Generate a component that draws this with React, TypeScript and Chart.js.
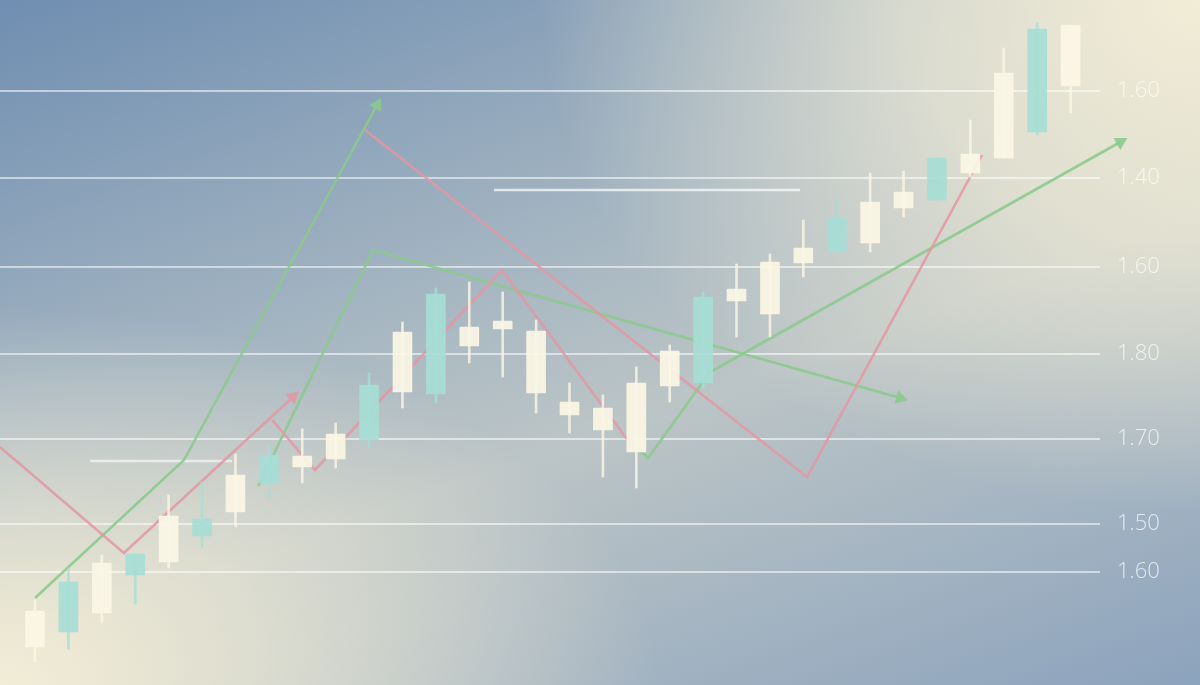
import { useEffect, useRef } from "react";
import { Chart, registerables } from "chart.js";

Chart.register(...registerables);

// ---- candle data (index positions 0..31) ----
const candleIdx = [0, 1, 2, 3, 4, 5, 6, 7, 8, 9, 10, 11, 12, 13, 14, 15, 16, 17, 18, 19, 20, 21, 22, 23, 24, 25, 26, 27, 28, 29, 30, 31];
const bodyHigh = [74, 103, 122, 131, 169, 166, 210, 230, 229, 251, 300, 353, 391, 358, 364, 354, 283, 277, 302, 334, 388, 396, 423, 437, 467, 483, 493, 527, 531, 612, 656, 660];
const bodyLow = [38, 53, 72, 110, 123, 149, 173, 202, 218, 226, 245, 293, 291, 339, 356, 292, 270, 255, 233, 299, 302, 384, 371, 422, 433, 442, 477, 485, 512, 527, 553, 599];
const highs = [85, 117, 130, 131, 190, 203, 231, 240, 256, 262, 312, 363, 397, 403, 393, 365, 302, 290, 318, 340, 393, 421, 431, 465, 485, 512, 514, 527, 565, 637, 662, 660];
const lows = [23, 36, 62, 81, 117, 138, 158, 185, 202, 217, 237, 277, 282, 322, 308, 272, 252, 208, 197, 283, 297, 348, 348, 408, 433, 433, 468, 485, 508, 527, 550, 572];
const kinds = ["c", "t", "c", "t", "c", "t", "c", "t", "c", "c", "t", "c", "t", "c", "c", "c", "c", "c", "c", "c", "t", "c", "c", "c", "t", "c", "c", "t", "c", "c", "t", "c"];

// ---- y axis ticks ----
const tickValues = [594, 507, 418, 331, 246, 161, 113];
const tickLabels = ["1.60", "1.40", "1.60", "1.80", "1.70", "1.50", "1.60"];

// ---- trend lines (x in candle-index units, y in price units) ----
const redAx = [-1.05, 2.66, 7.72];
const redAy = [238, 132, 288];
const redBx = [7.1, 8.38, 13.98, 17.96];
const redBy = [265, 215, 415, 235];
const redCx = [9.88, 23.11, 28.35];
const redCy = [555, 208, 530];
const greenAx = [0, 4.46, 10.24];
const greenAy = [87, 225, 580];
const greenBx = [6.68, 10.12, 25.9];
const greenBy = [199, 435, 287];
const greenCx = [18.05, 18.35, 20.21, 32.49];
const greenCy = [236, 227, 313, 543];
const whiteAx = [1.65, 5.9];
const whiteAy = [224, 224];
const whiteBx = [13.74, 22.9];
const whiteBy = [495, 495];

const CREAM = "rgba(251,246,229,0.93)";
const CREAM_WICK = "rgba(251,246,229,0.8)";
const TEAL = "rgba(166,221,213,0.92)";
const TEAL_WICK = "rgba(166,221,213,0.8)";
const RED = "rgba(228,150,162,0.85)";
const GREEN = "rgba(138,201,140,0.88)";

function pts(xs: number[], ys: number[]) {
  return xs.map((x, i) => ({ x, y: ys[i] }));
}

function lineDs(xs: number[], ys: number[], color: string, arrow: boolean, width = 2.6) {
  const n = xs.length;
  return {
    type: "line" as const,
    data: pts(xs, ys),
    arrow,
    borderColor: color,
    backgroundColor: color,
    borderWidth: width,
    tension: 0,
    clip: false as any,
    order: 5,
    pointStyle: "triangle" as const,
    pointBorderWidth: 0,
    pointBackgroundColor: color,
    pointRadius: (ctx: any) => (arrow && ctx.dataIndex === n - 1 ? 8 : 0),
    pointHoverRadius: 0,
    pointRotation: (ctx: any) => {
      const i = ctx.dataIndex;
      if (i === 0) return 0;
      const sx = ctx.chart.scales.x;
      const sy = ctx.chart.scales.y;
      const x1 = sx.getPixelForValue(xs[i - 1]);
      const y1 = sy.getPixelForValue(ys[i - 1]);
      const x2 = sx.getPixelForValue(xs[i]);
      const y2 = sy.getPixelForValue(ys[i]);
      return (Math.atan2(x2 - x1, -(y2 - y1)) * 180) / Math.PI;
    },
  };
}

// draws arrow-head points that lie outside the chart area (the library skips them)
const arrowOutside = {
  id: "arrowOutside",
  afterDatasetsDraw(chart: any) {
    const area = chart.chartArea;
    chart.data.datasets.forEach((ds: any, di: number) => {
      if (!ds.arrow) return;
      const meta = chart.getDatasetMeta(di);
      const last = meta.data[meta.data.length - 1];
      if (!last) return;
      if (last.x > area.right || last.x < area.left || last.y < area.top || last.y > area.bottom) {
        last.draw(chart.ctx);
      }
    });
  },
};

export default function App() {
  const ref = useRef<HTMLCanvasElement | null>(null);

  useEffect(() => {
    document.body.style.margin = "0";
    const canvas = ref.current;
    if (!canvas) return;
    const chart = new Chart(canvas, {
      type: "bar",
      plugins: [arrowOutside],
      data: {
        datasets: [
          {
            type: "bar",
            data: candleIdx.map((x, i) => ({ x, y: [lows[i], highs[i]] })) as any,
            backgroundColor: kinds.map((k) => (k === "t" ? TEAL_WICK : CREAM_WICK)),
            barThickness: 2,
            grouped: false,
            order: 2,
          } as any,
          {
            type: "bar",
            data: candleIdx.map((x, i) => ({ x, y: [bodyLow[i], bodyHigh[i]] })) as any,
            backgroundColor: kinds.map((k) => (k === "t" ? TEAL : CREAM)),
            barThickness: 19,
            grouped: false,
            borderRadius: 1,
            order: 1,
          } as any,
          lineDs(redAx, redAy, RED, true),
          lineDs(redBx, redBy, RED, false),
          lineDs(redCx, redCy, RED, false),
          lineDs(greenAx, greenAy, GREEN, true),
          lineDs(greenBx, greenBy, GREEN, true),
          lineDs(greenCx, greenCy, GREEN, true),
          lineDs(whiteAx, whiteAy, "rgba(255,255,255,0.6)", false, 2.5),
          lineDs(whiteBx, whiteBy, "rgba(255,255,255,0.7)", false, 2.5),
        ] as any,
      },
      options: {
        animation: false,
        responsive: true,
        maintainAspectRatio: false,
        layout: { padding: 0, autoPadding: false },
        plugins: { legend: { display: false }, tooltip: { enabled: false } },
        events: [],
        scales: {
          x: {
            type: "linear",
            display: false,
            offset: false,
            min: -1.048,
            max: 31.88,
          },
          y: {
            type: "linear",
            position: "right",
            min: 0,
            max: 685,
            afterBuildTicks: (scale: any) => {
              scale.ticks = tickValues.map((v) => ({ value: v }));
            },
            afterFit: (scale: any) => {
              scale.width = 100;
              scale.paddingTop = 0;
              scale.paddingBottom = 0;
            },
            border: { display: false },
            grid: {
              color: "rgba(255,255,255,0.55)",
              lineWidth: 2,
              drawTicks: false,
            },
            ticks: {
              padding: 17,
              color: "rgba(255,255,255,0.72)",
              font: { family: "'Open Sans', 'Noto Sans', sans-serif", size: 22, weight: 300 as any },
              callback: (_v: any, i: number) => tickLabels[i],
            },
          },
        },
      },
    });
    return () => chart.destroy();
  }, []);

  return (
    <div
      style={{
        position: "fixed",
        left: 0,
        top: 0,
        width: 1200,
        height: 685,
        background:
          "radial-gradient(ellipse 55% 55% at 0% 100%, rgba(243,237,214,1) 0%, rgba(243,237,214,0.6) 45%, rgba(243,237,214,0) 100%)," +
          "radial-gradient(ellipse 55% 75% at 100% 0%, rgba(243,237,214,1) 0%, rgba(243,237,214,0.7) 45%, rgba(243,237,214,0) 100%)," +
          "linear-gradient(160deg, #6f8eb1 0%, #a3b4c1 38%, #bcc5c6 58%, #8ca3bd 100%)",
      }}
    >
      <canvas ref={ref} />
    </div>
  );
}
